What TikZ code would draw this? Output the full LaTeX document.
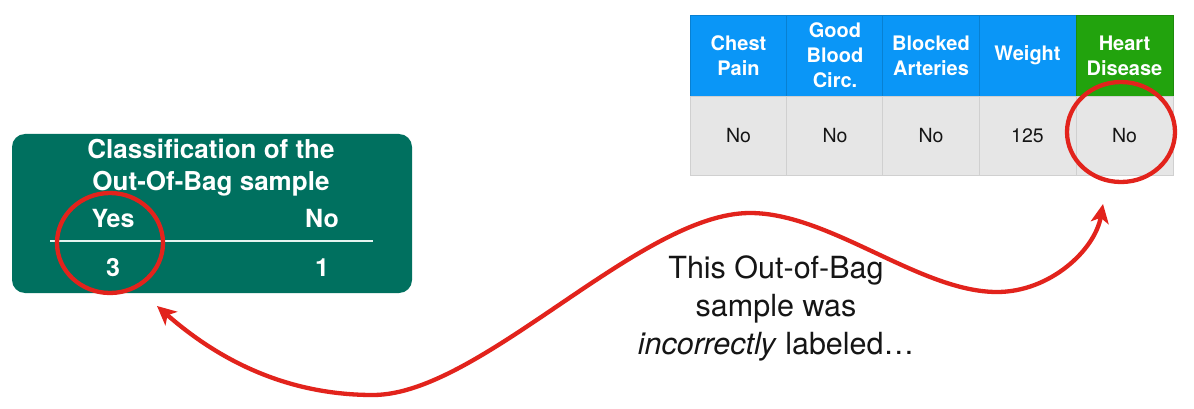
\documentclass[tikz,border=0pt]{standalone}
\usepackage{fontspec}
\setmainfont{TeX Gyre Heros}
\usetikzlibrary{arrows.meta,shapes.geometric}
\definecolor{oobteal}{HTML}{00705F}
\definecolor{hblue}{HTML}{0A96F7}
\definecolor{hgreen}{HTML}{22A30D}
\definecolor{rowgray}{HTML}{E6E6E6}
\definecolor{rowline}{HTML}{D0D0D0}
\definecolor{markred}{HTML}{E2231C}
\definecolor{txt}{HTML}{151515}
\definecolor{rulecol}{HTML}{E4F4F0}
\begin{document}
\begin{tikzpicture}[x=1pt,y=-1pt,
  hdr/.style={minimum width=97pt,minimum height=81pt,inner sep=0pt,align=center,text=white,
    font=\bfseries\fontsize{20}{25}\selectfont,draw=#1!85!black,line width=0.6pt,fill=#1},
  cell/.style={minimum width=97pt,minimum height=79pt,inner sep=0pt,fill=rowgray,draw=rowline,
    line width=0.8pt,text=txt,font=\fontsize{19.5}{24}\selectfont},
  boxtxt/.style={text=white,inner sep=0pt,font=\bfseries\fontsize{25}{32}\selectfont},
  redmark/.style={ellipse,draw=markred,line width=4.3pt,inner sep=0pt},
  link/.style={draw=markred,line width=4.3pt,{Stealth[length=19pt,width=18pt,inset=5pt]}-{Stealth[length=19pt,width=18pt,inset=5pt]}}
]
\useasboundingbox (0,0) rectangle (1194,409);
\fill[white] (0,0) rectangle (1194,409);

% left box
\node[fill=oobteal,rounded corners=13pt,minimum width=400pt,minimum height=159pt,inner sep=0pt] (box) at (212,213.5) {};
\node[boxtxt,align=center,font=\bfseries\fontsize{26}{32}\selectfont] (title) at (211,168) {Classification of the\\Out-Of-Bag sample};
\node[boxtxt,anchor=base] (yes) at (113,227) {Yes};
\node[boxtxt,anchor=base] (no) at (322,227) {No};
\node[boxtxt,anchor=base] (three) at (113,276) {3};
\node[boxtxt,anchor=base] (one) at (322,276) {1};
\coordinate (ruleL) at (50,241);
\coordinate (ruleR) at (373,241);
\draw[rulecol,line width=2.6pt] (ruleL) -- (ruleR);

% table
\node[hdr=hblue] (h1) at (738.5,55.5) {Chest\\Pain};
\node[hdr=hblue] (h2) at (835,55.5) {Good\\Blood\\Circ.};
\node[hdr=hblue] (h3) at (931,55.5) {Blocked\\Arteries};
\node[hdr=hblue] (h4) at (1027.5,55.5) {Weight};
\node[hdr=hgreen] (h5) at (1124.5,55.5) {Heart\\Disease};
\node[cell] (c1) at (738.5,135.5) {No};
\node[cell] (c2) at (835,135.5) {No};
\node[cell] (c3) at (931,135.5) {No};
\node[cell] (c4) at (1027.5,135.5) {125};
\node[cell] (c5) at (1124.5,135.5) {No};

% red marks
\node[redmark,minimum width=106pt,minimum height=100pt] (markL) at (110,243) {};
\node[redmark,minimum width=108pt,minimum height=100pt] (markR) at (1121,132) {};

% caption
\node[align=center,text=txt,inner sep=0pt,font=\fontsize{30.5}{38}\selectfont] (cap) at (776,308)
  {This Out-of-Bag\\sample was\\\textit{incorrectly} labeled…};

% connector
\coordinate (tipL) at (157,306);
\coordinate (tipR) at (1103,204);
\draw[link] (tipL) .. controls (230,370) and (300,395) .. (373,395)
  .. controls (480,395) and (640,213) .. (750,213)
  .. controls (830,213) and (920,292) .. (997,292)
  .. controls (1050,292) and (1095,250) .. (tipR);
\end{tikzpicture}
\end{document}
